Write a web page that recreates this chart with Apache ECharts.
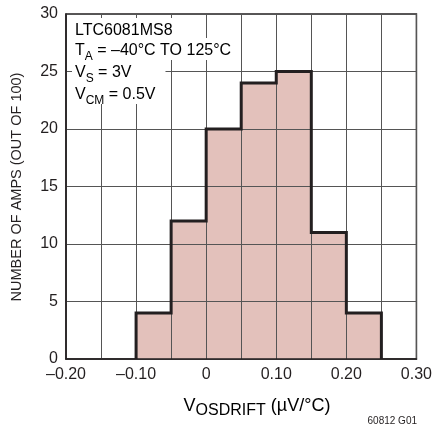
<!DOCTYPE html>
<html>
<head>
<meta charset="utf-8">
<script src="https://cdn.jsdelivr.net/npm/echarts@6/dist/echarts.min.js"></script>
<style>
  html, body { margin: 0; padding: 0; background: #fff; }
  #chart { width: 435px; height: 433px; }
</style>
</head>
<body>
<div id="chart"></div>
<script>
// Histogram of offset-voltage drift, 100 amplifiers
const binEdges = [-0.10, -0.05, 0, 0.05, 0.10, 0.15, 0.20, 0.25];
const ampCounts = [4, 12, 20, 24, 25, 11, 4];
const xTickLabels = ['\u20130.20', '\u20130.10', '0', '0.10', '0.20', '0.30'];
const yTickLabels = ['0', '5', '10', '15', '20', '25', '30'];

const INK = '#231f20';
const FONT = '"Liberation Sans", Arial, sans-serif';

const barData = ampCounts.map((c, i) => [binEdges[i], binEdges[i + 1], c]);

// Outer profile of the histogram, stepping over each bin
const outline = [[binEdges[0], 0]];
ampCounts.forEach((c, i) => {
  outline.push([binEdges[i], c]);
  outline.push([binEdges[i + 1], c]);
});
outline.push([binEdges[binEdges.length - 1], 0]);

const rich = {
  n: { fontFamily: FONT, fontSize: 16, color: INK, lineHeight: 20, verticalAlign: 'bottom' },
  s: { fontFamily: FONT, fontSize: 12, color: INK, lineHeight: 20, verticalAlign: 'bottom', padding: [0, 0, -4, 0] }
};

// One line of the condition note, on a white strip that masks the grid
function noteLine(text, top, padRight) {
  return {
    type: 'text', left: 72, top: top, z: 20,
    style: { text: text, rich: rich, backgroundColor: '#fff', padding: [1, padRight, 1, 3] }
  };
}

const chart = echarts.init(document.getElementById('chart'), null, { renderer: 'canvas' });
chart.setOption({
  animation: false,
  backgroundColor: '#fff',
  grid: { left: 66, right: 17, top: 14, bottom: 74, show: true, borderColor: INK, borderWidth: 1.5, containLabel: false },
  xAxis: {
    type: 'value', min: -0.2, max: 0.3, interval: 0.05, z: 3,
    axisLine: { show: true, onZero: false, lineStyle: { color: INK, width: 1.5 } },
    axisTick: { show: false },
    splitLine: { show: true, lineStyle: { color: '#555', width: 1 } },
    axisLabel: {
      color: INK, fontFamily: FONT, fontSize: 16, margin: 8,
      formatter: (v) => {
        const c = Math.round(v * 100);
        return c % 10 === 0 ? xTickLabels[(c + 20) / 10] : '';
      }
    }
  },
  yAxis: {
    type: 'value', min: 0, max: 30, interval: 5, z: 3,
    axisLine: { show: true, onZero: false, lineStyle: { color: INK, width: 1.5 } },
    axisTick: { show: false },
    splitLine: { show: true, lineStyle: { color: '#555', width: 1 } },
    axisLabel: {
      color: INK, fontFamily: FONT, fontSize: 16, margin: 8,
      formatter: (v) => yTickLabels[Math.round(v / 5)]
    }
  },
  series: [
    {
      type: 'custom', z: 2,
      data: barData,
      encode: { x: [0, 1], y: 2 },
      renderItem: (params, api) => {
        const p0 = api.coord([api.value(0), api.value(2)]);
        const p1 = api.coord([api.value(1), 0]);
        return {
          type: 'rect',
          shape: { x: p0[0], y: p0[1], width: p1[0] - p0[0], height: p1[1] - p0[1] },
          style: { fill: '#e3c1bb' }
        };
      }
    },
    {
      type: 'line', z: 5, data: outline, symbol: 'none',
      lineStyle: { color: INK, width: 3, join: 'miter' }
    }
  ],
  graphic: [
    noteLine('{n|LTC6081MS8}', 18, 4),
    noteLine('{n|T}{s|A}{n| = \u201340\u00b0C TO 125\u00b0C}', 38, 6),
    noteLine('{n|V}{s|S}{n| = 3V}', 60, 34),
    noteLine('{n|V}{s|CM}{n| = 0.5V}', 82, 10),
    {
      type: 'text', x: 257, y: 404, z: 20,
      style: {
        text: '{n|V}{s|OSDRIFT}{n| (\u00b5V/\u00b0C)}',
        rich: {
          n: { fontFamily: FONT, fontSize: 18, color: INK, lineHeight: 22, verticalAlign: 'bottom' },
          s: { fontFamily: FONT, fontSize: 16, color: INK, lineHeight: 22, verticalAlign: 'bottom', padding: [0, 0, -4, 0] }
        },
        align: 'center', verticalAlign: 'middle'
      }
    },
    {
      type: 'text', x: 17, y: 187, rotation: Math.PI / 2, z: 20,
      style: {
        text: 'NUMBER OF AMPS (OUT OF 100)', fontFamily: FONT, fontSize: 14.5, fill: INK,
        align: 'center', verticalAlign: 'middle'
      }
    },
    {
      type: 'text', x: 417, y: 421, z: 20,
      style: { text: '60812 G01', fontFamily: FONT, fontSize: 10, fill: INK, align: 'right', verticalAlign: 'middle' }
    }
  ]
});
</script>
</body>
</html>
